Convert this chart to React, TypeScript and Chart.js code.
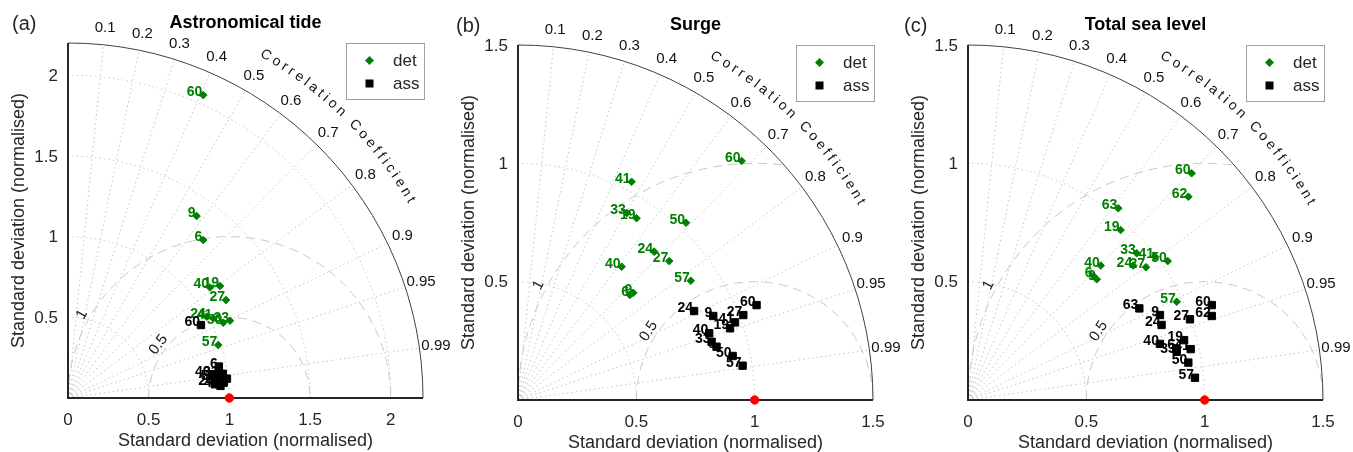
import React, { useEffect, useRef } from 'react';
import { Chart, registerables } from 'chart.js';

Chart.register(...registerables);

const FONT = "'Liberation Sans', Arial, Helvetica, sans-serif";
const GREEN = '#008000';
const TEXT = '#262626';

// Shared Taylor-diagram axes
const corrTicks = [0.1, 0.2, 0.3, 0.4, 0.5, 0.6, 0.7, 0.8, 0.9, 0.95, 0.99];
const corrTickLabels = ['0.1', '0.2', '0.3', '0.4', '0.5', '0.6', '0.7', '0.8', '0.9', '0.95', '0.99'];
const rmsArcs = [0.5, 1];
const rmsArcLabels = ['0.5', '1'];
const refX = [1];
const refY = [0];
const legendLabels = ['det', 'ass'];

// (a) Astronomical tide
const tideMax = 2.2;
const tideStdTicks = [0.5, 1, 1.5, 2];
const tideXTicks = [0, 0.5, 1, 1.5, 2];
const tideXTickLabels = ['0', '0.5', '1', '1.5', '2'];
const tideYTickLabels = ['0.5', '1', '1.5', '2'];
const tideStations = ['6', '9', '19', '24', '27', '33', '40', '41', '50', '57', '60'];
const tideDetX = [0.838, 0.797, 0.942, 0.86, 0.979, 1.004, 0.88, 0.90, 0.962, 0.931, 0.838];
const tideDetY = [0.979, 1.128, 0.694, 0.504, 0.607, 0.479, 0.685, 0.494, 0.467, 0.328, 1.877];
const tideAssX = [0.935, 0.96, 0.95, 0.91, 0.985, 0.94, 0.89, 0.945, 0.965, 0.925, 0.824];
const tideAssY = [0.195, 0.15, 0.12, 0.085, 0.12, 0.14, 0.14, 0.075, 0.095, 0.115, 0.452];

// (b) Surge
const surgeMax = 1.5;
const surgeStdTicks = [0.5, 1];
const surgeXTicks = [0, 0.5, 1, 1.5];
const surgeXTickLabels = ['0', '0.5', '1', '1.5'];
const surgeYTicks = [0.5, 1, 1.5];
const surgeYTickLabels = ['0.5', '1', '1.5'];
const surgeStations = ['6', '9', '19', '24', '27', '33', '40', '41', '50', '57', '60'];
const surgeDetX = [0.473, 0.487, 0.501, 0.575, 0.639, 0.46, 0.438, 0.48, 0.71, 0.73, 0.945];
const surgeDetY = [0.444, 0.453, 0.768, 0.627, 0.587, 0.79, 0.563, 0.922, 0.749, 0.504, 1.01];
const surgeAssX = [0.839, 0.825, 0.896, 0.744, 0.952, 0.818, 0.808, 0.917, 0.907, 0.949, 1.008];
const surgeAssY = [0.225, 0.355, 0.303, 0.376, 0.359, 0.246, 0.282, 0.328, 0.186, 0.145, 0.401];

// (c) Total sea level
const totalMax = 1.5;
const totalStdTicks = [0.5, 1];
const totalXTicks = [0, 0.5, 1, 1.5];
const totalXTickLabels = ['0', '0.5', '1', '1.5'];
const totalYTicks = [0.5, 1, 1.5];
const totalYTickLabels = ['0.5', '1', '1.5'];
const totalStations = ['6', '9', '19', '24', '27', '33', '40', '41', '50', '57', '60', '62', '63'];
const totalDetX = [0.53, 0.544, 0.645, 0.698, 0.752, 0.713, 0.561, 0.79, 0.844, 0.882, 0.945, 0.931, 0.635];
const totalDetY = [0.524, 0.51, 0.718, 0.568, 0.561, 0.62, 0.568, 0.606, 0.587, 0.415, 0.958, 0.859, 0.81];
const totalAssX = [0.879, 0.811, 0.913, 0.818, 0.938, 0.882, 0.811, 0.941, 0.931, 0.959, 1.03, 1.03, 0.724];
const totalAssY = [0.218, 0.359, 0.253, 0.317, 0.341, 0.204, 0.237, 0.215, 0.158, 0.094, 0.401, 0.355, 0.387];

type PanelCfg = {
  letter: string;
  letterX: number;
  title: string;
  max: number;
  stdArcs: number[];
  xTicks: number[];
  xTickLabels: string[];
  yTicks: number[];
  yTickLabels: string[];
  stations: string[];
  detX: number[];
  detY: number[];
  assX: number[];
  assY: number[];
  rmsLabelAngles: number[];
  padTop: number;
  padBottom: number;
};

const panels: { cfg: PanelCfg; left: number; width: number }[] = [
  {
    left: 0,
    width: 480,
    cfg: {
      letter: '(a)', letterX: 12, title: 'Astronomical tide', max: tideMax,
      stdArcs: tideStdTicks, xTicks: tideXTicks, xTickLabels: tideXTickLabels,
      yTicks: tideStdTicks, yTickLabels: tideYTickLabels,
      stations: tideStations, detX: tideDetX, detY: tideDetY, assX: tideAssX, assY: tideAssY,
      rmsLabelAngles: [143, 150.5], padTop: 43, padBottom: 54,
    },
  },
  {
    left: 450,
    width: 480,
    cfg: {
      letter: '(b)', letterX: 6, title: 'Surge', max: surgeMax,
      stdArcs: surgeStdTicks, xTicks: surgeXTicks, xTickLabels: surgeXTickLabels,
      yTicks: surgeYTicks, yTickLabels: surgeYTickLabels,
      stations: surgeStations, detX: surgeDetX, detY: surgeDetY, assX: surgeAssX, assY: surgeAssY,
      rmsLabelAngles: [147, 152], padTop: 45, padBottom: 52,
    },
  },
  {
    left: 900,
    width: 453,
    cfg: {
      letter: '(c)', letterX: 4, title: 'Total sea level', max: totalMax,
      stdArcs: totalStdTicks, xTicks: totalXTicks, xTickLabels: totalXTickLabels,
      yTicks: totalYTicks, yTickLabels: totalYTickLabels,
      stations: totalStations, detX: totalDetX, detY: totalDetY, assX: totalAssX, assY: totalAssY,
      rmsLabelAngles: [147, 152], padTop: 45, padBottom: 52,
    },
  },
];

function makePlugin(cfg: PanelCfg) {
  return {
    id: 'taylor',
    beforeDatasetsDraw(chart: any) {
      const ctx: CanvasRenderingContext2D = chart.ctx;
      const xs = chart.scales.x;
      const ys = chart.scales.y;
      const ox = xs.getPixelForValue(0);
      const oy = ys.getPixelForValue(0);
      const rp = (v: number) => xs.getPixelForValue(v) - ox;
      const R = rp(cfg.max);
      ctx.save();

      // std dev dotted arcs
      ctx.strokeStyle = '#c4c4c4';
      ctx.lineWidth = 1;
      ctx.setLineDash([1.5, 3]);
      cfg.stdArcs.forEach((s) => {
        ctx.beginPath();
        ctx.arc(ox, oy, rp(s), -Math.PI / 2, 0);
        ctx.stroke();
      });
      // correlation radials
      corrTicks.forEach((c) => {
        const th = Math.acos(c);
        ctx.beginPath();
        ctx.moveTo(ox, oy);
        ctx.lineTo(ox + R * Math.cos(th), oy - R * Math.sin(th));
        ctx.stroke();
      });

      // RMS dashed arcs, clipped to the quarter disk
      ctx.save();
      ctx.beginPath();
      ctx.moveTo(ox, oy);
      ctx.arc(ox, oy, R, -Math.PI / 2, 0);
      ctx.closePath();
      ctx.clip();
      const cx = xs.getPixelForValue(refX[0]);
      const cy = ys.getPixelForValue(refY[0]);
      ctx.strokeStyle = '#c8c8c8';
      ctx.setLineDash([9, 6]);
      rmsArcs.forEach((r) => {
        ctx.beginPath();
        ctx.arc(cx, cy, rp(r), -Math.PI, 0);
        ctx.stroke();
      });
      ctx.restore();
      ctx.setLineDash([]);

      // RMS labels
      ctx.fillStyle = '#1a1a1a';
      ctx.font = `15px ${FONT}`;
      ctx.textAlign = 'center';
      ctx.textBaseline = 'middle';
      rmsArcs.forEach((r, i) => {
        const phi = (cfg.rmsLabelAngles[i] * Math.PI) / 180;
        const rr = rp(r) + 8;
        const px = cx + rr * Math.cos(phi);
        const py = cy - rr * Math.sin(phi);
        ctx.save();
        ctx.translate(px, py);
        ctx.rotate(Math.PI / 2 - phi);
        ctx.fillText(rmsArcLabels[i], 0, 0);
        ctx.restore();
      });

      // outer arc
      ctx.strokeStyle = '#404040';
      ctx.lineWidth = 1;
      ctx.beginPath();
      ctx.arc(ox, oy, R, -Math.PI / 2, 0);
      ctx.stroke();
      // axes
      ctx.strokeStyle = '#262626';
      ctx.lineWidth = 2;
      ctx.beginPath();
      ctx.moveTo(ox, oy - R);
      ctx.lineTo(ox, oy);
      ctx.lineTo(ox + R, oy);
      ctx.stroke();

      // tick labels
      ctx.fillStyle = TEXT;
      ctx.font = `17px ${FONT}`;
      ctx.textAlign = 'center';
      ctx.textBaseline = 'middle';
      cfg.xTicks.forEach((v, i) => {
        ctx.fillText(cfg.xTickLabels[i], xs.getPixelForValue(v), oy + 22);
      });
      ctx.textAlign = 'right';
      cfg.yTicks.forEach((v, i) => {
        ctx.fillText(cfg.yTickLabels[i], ox - 10, ys.getPixelForValue(v) + 1);
      });

      // axis titles
      ctx.font = `18px ${FONT}`;
      ctx.textAlign = 'center';
      ctx.fillText('Standard deviation (normalised)', ox + R / 2, oy + 43);
      ctx.save();
      ctx.translate(19, oy - R / 2);
      ctx.rotate(-Math.PI / 2);
      ctx.fillText('Standard deviation (normalised)', 0, 0);
      ctx.restore();

      // panel title + letter
      ctx.font = `bold 18px ${FONT}`;
      ctx.fillStyle = '#000';
      ctx.fillText(cfg.title, ox + R / 2, oy - R - 20);
      ctx.font = `20px ${FONT}`;
      ctx.textAlign = 'left';
      ctx.fillStyle = TEXT;
      ctx.fillText(cfg.letter, cfg.letterX, oy - R - 19);

      // correlation tick labels
      ctx.font = `15px ${FONT}`;
      ctx.fillStyle = '#111';
      ctx.textAlign = 'center';
      corrTicks.forEach((c, i) => {
        const th = Math.acos(c);
        const rr = R * 1.047;
        ctx.fillText(corrTickLabels[i], ox + rr * Math.cos(th), oy - rr * Math.sin(th));
      });

      // "Correlation Coefficient" along the arc
      const txt = 'Correlation Coefficient';
      ctx.font = `14px ${FONT}`;
      const chars = txt.split('');
      const w = chars.map((ch) => ctx.measureText(ch).width);
      const rr = R * 1.115;
      const startA = (60 * Math.PI) / 180;
      const endA = (30 * Math.PI) / 180;
      const L = rr * (startA - endA);
      const natural = w.reduce((a, b) => a + b, 0) - w[0] / 2 - w[w.length - 1] / 2;
      const gap = (L - natural) / (chars.length - 1);
      let s = 0;
      chars.forEach((ch, i) => {
        if (i > 0) s += w[i - 1] / 2 + gap + w[i] / 2;
        const a = startA - s / rr;
        ctx.save();
        ctx.translate(ox + rr * Math.cos(a), oy - rr * Math.sin(a));
        ctx.rotate(Math.PI / 2 - a);
        ctx.fillText(ch, 0, 0);
        ctx.restore();
      });

      // station labels (drawn under markers)
      ctx.font = `bold 14px ${FONT}`;
      ctx.textAlign = 'right';
      ctx.textBaseline = 'alphabetic';
      const drawLabels = (dsIndex: number, color: string) => {
        const meta = chart.getDatasetMeta(dsIndex);
        ctx.fillStyle = color;
        meta.data.forEach((el: any, j: number) => {
          ctx.fillText(cfg.stations[j], el.x - 1, el.y + 1);
        });
      };
      drawLabels(2, GREEN);
      drawLabels(1, '#000');
      ctx.restore();
    },
    afterDatasetsDraw(chart: any) {
      const ctx: CanvasRenderingContext2D = chart.ctx;
      const area = chart.chartArea;
      ctx.save();
      const bx = area.right - 77;
      const by = area.top;
      ctx.fillStyle = '#fff';
      ctx.fillRect(bx, by, 78, 56);
      ctx.strokeStyle = '#a0a0a0';
      ctx.lineWidth = 1;
      ctx.strokeRect(bx + 0.5, by + 0.5, 78, 56);
      const mx = bx + 23.5;
      const r1 = by + 17.5;
      const r2 = by + 40.5;
      ctx.fillStyle = GREEN;
      ctx.beginPath();
      ctx.moveTo(mx - 4.5, r1);
      ctx.lineTo(mx, r1 - 4.5);
      ctx.lineTo(mx + 4.5, r1);
      ctx.lineTo(mx, r1 + 4.5);
      ctx.closePath();
      ctx.fill();
      ctx.fillStyle = '#000';
      ctx.fillRect(mx - 4, r2 - 4, 8, 8);
      ctx.fillStyle = TEXT;
      ctx.font = `17px ${FONT}`;
      ctx.textAlign = 'left';
      ctx.textBaseline = 'middle';
      ctx.fillText(legendLabels[0], bx + 47, r1 + 1);
      ctx.fillText(legendLabels[1], bx + 47, r2 + 1);
      ctx.restore();
    },
  };
}

function Panel({ cfg, left, width }: { cfg: PanelCfg; left: number; width: number }) {
  const ref = useRef<HTMLCanvasElement>(null);
  useEffect(() => {
    const canvas = ref.current!;
    const toPts = (xa: number[], ya: number[]) => xa.map((x, i) => ({ x, y: ya[i] }));
    const chart = new Chart(canvas, {
      type: 'scatter',
      data: {
        datasets: [
          {
            label: 'ref',
            data: toPts(refX, refY),
            pointStyle: 'circle',
            pointRadius: 4.2,
            backgroundColor: '#ff0000',
            borderColor: '#ff0000',
            borderWidth: 1,
            clip: false,
          },
          {
            label: legendLabels[1],
            data: toPts(cfg.assX, cfg.assY),
            pointStyle: 'rect',
            pointRadius: 5.2,
            backgroundColor: '#000',
            borderColor: '#000',
            borderWidth: 1,
            clip: false,
          },
          {
            label: legendLabels[0],
            data: toPts(cfg.detX, cfg.detY),
            pointStyle: 'rectRot',
            pointRadius: 3.8,
            backgroundColor: GREEN,
            borderColor: GREEN,
            borderWidth: 1,
            clip: false,
          },
        ],
      } as any,
      options: {
        animation: false,
        responsive: false,
        maintainAspectRatio: false,
        devicePixelRatio: 1,
        events: [],
        layout: {
          padding: { left: 68, top: cfg.padTop, right: width - 423, bottom: cfg.padBottom },
        },
        scales: {
          x: { type: 'linear', min: 0, max: cfg.max, display: false },
          y: { type: 'linear', min: 0, max: cfg.max, display: false },
        },
        plugins: {
          legend: { display: false },
          tooltip: { enabled: false },
          title: { display: false },
        },
      },
      plugins: [makePlugin(cfg)],
    });
    return () => chart.destroy();
  }, []);
  return (
    <canvas
      ref={ref}
      width={width}
      height={452}
      style={{ position: 'absolute', left, top: 0, width, height: 452 }}
    />
  );
}

export default function App() {
  return (
    <div style={{ position: 'absolute', left: 0, top: 0, width: 1353, height: 452, background: '#fff' }}>
      {panels.map((p, i) => (
        <Panel key={i} cfg={p.cfg} left={p.left} width={p.width} />
      ))}
    </div>
  );
}
